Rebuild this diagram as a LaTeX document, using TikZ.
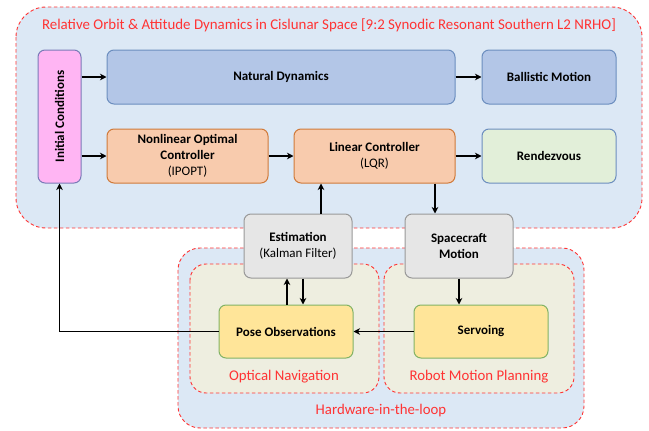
\documentclass[tikz,border=0pt]{standalone}
\usepackage{fontspec}
\setmainfont{Carlito}
\usetikzlibrary{arrows.meta}
\definecolor{contblue}{HTML}{DCE8F5}
\definecolor{contbeige}{HTML}{EEEEE0}
\definecolor{dashred}{HTML}{FF3333}
\definecolor{natfill}{HTML}{B3C6E7}
\definecolor{natdraw}{HTML}{6C8EBF}
\definecolor{orfill}{HTML}{F8CBAD}
\definecolor{ordraw}{HTML}{D07A3A}
\definecolor{grfill}{HTML}{E2EFD9}
\definecolor{pkfill}{HTML}{FFB5F3}
\definecolor{pkdraw}{HTML}{7A7BB8}
\definecolor{gyfill}{HTML}{E6E6E6}
\definecolor{gydraw}{HTML}{999999}
\definecolor{ylfill}{HTML}{FFE599}
\definecolor{yldraw}{HTML}{82B366}
\tikzset{
  container/.style={draw=dashred, dashed, dash pattern=on 3.5pt off 2.5pt, line width=0.9pt},
  box/.style={rectangle, rounded corners=7pt, line width=1pt, inner sep=0pt, align=center, font=\fontsize{13}{16}\selectfont},
  contlabel/.style={text=dashred, font=\fontsize{14.8}{16}\selectfont, inner sep=0pt},
  arr/.style={line width=1.8pt, -{Stealth[length=6.5pt,width=6.5pt,inset=2pt]}},
}
\begin{document}
\begin{tikzpicture}[x=1pt,y=-1pt]
\useasboundingbox (0,0) rectangle (649,431);
% containers
\draw[container, fill=contblue, rounded corners=30pt] (16,7) rectangle (642,228);
\draw[container, fill=contblue, rounded corners=22pt] (178,248) rectangle (584,428);
\draw[container, fill=contbeige, rounded corners=16pt] (190,264) rectangle (379,393);
\draw[container, fill=contbeige, rounded corners=16pt] (384,264) rectangle (574,393);
% container labels
\node[contlabel, font=\fontsize{14.9}{16}\selectfont] (title) at (329,25) {Relative Orbit \& Attitude Dynamics in Cislunar Space [9:2 Synodic Resonant Southern L2 NRHO]};
\node[contlabel] (optlbl) at (284,377) {Optical Navigation};
\node[contlabel] (rmplbl) at (479,377) {Robot Motion Planning};
\node[contlabel] (hwlbl) at (381,411) {Hardware-in-the-loop};
% boxes
\node[box, fill=pkfill, draw=pkdraw, minimum width=43pt, minimum height=133pt] (init) at (59.5,116.5) {};
\node[rotate=90, font=\fontsize{13}{16}\selectfont\bfseries, inner sep=0pt] (initlbl) at (init.center) {Initial Conditions};
\node[box, fill=natfill, draw=natdraw, minimum width=348pt, minimum height=54pt] (nat) at (281,77) {\textbf{Natural Dynamics}};
\node[box, fill=natfill, draw=natdraw, minimum width=134pt, minimum height=54pt] (ball) at (549,77) {\textbf{Ballistic Motion}};
\node[box, fill=orfill, draw=ordraw, minimum width=161pt, minimum height=54pt] (nonlin) at (187.5,156) {\textbf{Nonlinear Optimal}\\\textbf{Controller}\\(IPOPT)};
\node[box, fill=orfill, draw=ordraw, minimum width=161pt, minimum height=54pt] (lin) at (374.5,156) {\textbf{Linear Controller}\\(LQR)};
\node[box, fill=grfill, draw=natdraw, minimum width=134pt, minimum height=54pt] (rend) at (549,156) {\textbf{Rendezvous}};
\node[box, fill=gyfill, draw=gydraw, minimum width=108pt, minimum height=64pt] (est) at (298,246) {\textbf{Estimation}\\(Kalman Filter)};
\node[box, fill=gyfill, draw=gydraw, minimum width=108pt, minimum height=64pt] (scm) at (459,246) {\textbf{Spacecraft}\\\textbf{Motion}};
\node[box, fill=ylfill, draw=yldraw, minimum width=134pt, minimum height=53pt] (pose) at (286,331.5) {\textbf{Pose Observations}};
\node[box, fill=ylfill, draw=yldraw, minimum width=134pt, minimum height=53pt] (servo) at (481,331.5) {\textbf{Servoing}};
% arrows
\draw[arr] (init.east |- nat.west) -- (nat.west);
\draw[arr] (init.east |- nonlin.west) -- (nonlin.west);
\draw[arr] (nat.east) -- (ball.west);
\draw[arr] (nonlin.east) -- (lin.west);
\draw[arr] (lin.east) -- (rend.west);
\draw[arr] ([xshift=23pt]est.north) -- ([xshift=23pt]est.north |- lin.south);
\draw[arr] ([xshift=60.5pt]lin.south) -- ([xshift=60.5pt]lin.south |- scm.north);
\draw[arr] ([xshift=5pt]est.south) -- ([xshift=5pt]est.south |- pose.north);
\draw[arr] ([xshift=-11pt]est.south |- pose.north) -- ([xshift=-11pt]est.south);
\draw[arr] (scm.south) -- (scm.south |- servo.north);
\draw[arr] (servo.west) -- (pose.east);
\draw[arr] (pose.west) -| (init.south);
\end{tikzpicture}
\end{document}
